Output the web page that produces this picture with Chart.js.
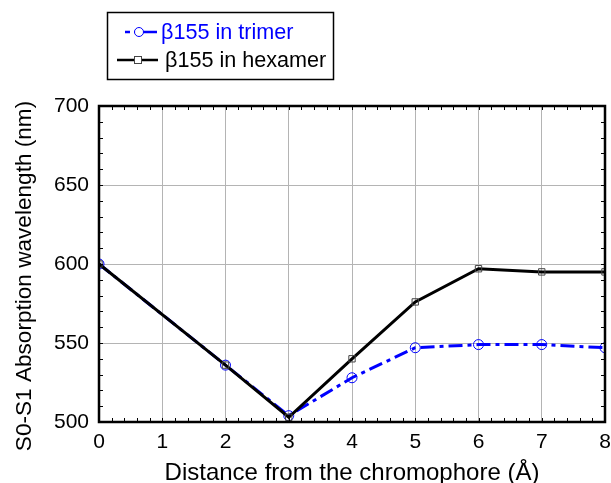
<!DOCTYPE html>
<html>
<head>
<meta charset="utf-8">
<script src="https://cdn.jsdelivr.net/npm/chart.js@4.4.0/dist/chart.umd.min.js"></script>
<style>
  html, body { margin: 0; padding: 0; background: #fff; }
  #wrap { width: 611px; height: 483px; }
</style>
</head>
<body>
<div id="wrap"><canvas id="absorption-chart" width="611" height="483"></canvas></div>
<script>
Chart.defaults.font.family = '"Liberation Sans", Arial, sans-serif'

// distances (Å) and S0-S1 absorption wavelengths (nm)
const distances = [0, 2, 3, 4, 5, 6, 7, 8];
const trimer = [600, 536, 504, 528, 547, 549, 549, 547];
const hexamer = [600, 536, 503, 540, 576, 597, 595, 595];

const seriesLabels = ["β155 in trimer", "β155 in hexamer"];
const xTitle = "Distance from the chromophore (Å)";
const yTitle = "S0-S1 Absorption wavelength (nm)";

const blueDash = [14, 5, 4, 5];

const toPoints = (vals) => distances.map((d, i) => ({ x: d, y: vals[i] }));

// frame, minor ticks, axis titles and the boxed legend
const decorPlugin = {
  id: 'decor',
  afterDatasetsDraw(chart) {
    const ctx = chart.ctx;
    const a = chart.chartArea;
    const xs = chart.scales.x;
    const ys = chart.scales.y;
    ctx.save();

    // minor ticks inside the frame
    ctx.strokeStyle = '#000';
    ctx.lineWidth = 1;
    ctx.beginPath();
    for (let v = 0; v <= 8.001; v += 0.2) {
      const px = Math.round(xs.getPixelForValue(v)) + 0.5;
      ctx.moveTo(px, a.bottom); ctx.lineTo(px, a.bottom - 4);
      ctx.moveTo(px, a.top); ctx.lineTo(px, a.top + 4);
    }
    for (let v = 500; v <= 700; v += 10) {
      const py = Math.round(ys.getPixelForValue(v)) + 0.5;
      ctx.moveTo(a.left, py); ctx.lineTo(a.left + 4, py);
      ctx.moveTo(a.right, py); ctx.lineTo(a.right - 4, py);
    }
    ctx.stroke();

    // frame
    ctx.lineWidth = 2.5;
    ctx.strokeRect(a.left, a.top, a.right - a.left, a.bottom - a.top);

    // axis titles
    ctx.fillStyle = '#000';
    ctx.textAlign = 'center';
    ctx.textBaseline = 'alphabetic';
    ctx.font = '24px "Liberation Sans", Arial, sans-serif';
    ctx.fillText(xTitle, (a.left + a.right) / 2, 480);
    ctx.save();
    ctx.font = '22.6px "Liberation Sans", Arial, sans-serif';
    ctx.translate(31, 276);
    ctx.rotate(-Math.PI / 2);
    ctx.fillText(yTitle, 0, 0);
    ctx.restore();

    // legend box
    ctx.lineWidth = 1.5;
    ctx.strokeStyle = '#000';
    ctx.strokeRect(107.5, 12.5, 226, 67);
    ctx.font = '21.6px "Liberation Sans", Arial, sans-serif';
    ctx.textAlign = 'left';
    ctx.textBaseline = 'middle';

    // trimer entry
    ctx.strokeStyle = '#0000ff';
    ctx.lineWidth = 2.5;
    ctx.setLineDash([5, 4, 18, 0]);
    ctx.beginPath();
    ctx.moveTo(125, 32); ctx.lineTo(158, 32);
    ctx.stroke();
    ctx.setLineDash([]);
    ctx.lineWidth = 1;
    ctx.beginPath();
    ctx.arc(139, 32, 4.5, 0, Math.PI * 2);
    ctx.fillStyle = '#fff';
    ctx.fill();
    ctx.stroke();
    ctx.fillStyle = '#0000ff';
    ctx.fillText(seriesLabels[0], 161, 33);

    // hexamer entry
    ctx.strokeStyle = '#000';
    ctx.lineWidth = 2.5;
    ctx.beginPath();
    ctx.moveTo(117, 60); ctx.lineTo(158, 60);
    ctx.stroke();
    ctx.lineWidth = 1;
    ctx.strokeStyle = '#444';
    ctx.fillStyle = '#fff';
    ctx.fillRect(134, 56, 8, 8);
    ctx.strokeRect(134.5, 56.5, 7, 7);
    ctx.fillStyle = '#000';
    ctx.fillText(seriesLabels[1], 165, 61);

    ctx.restore();
  }
};

const config = {
  type: 'line',
  data: {
    datasets: [
      {
        label: seriesLabels[1],
        data: toPoints(hexamer),
        borderColor: '#000',
        borderWidth: 3,
        pointStyle: 'rect',
        pointRadius: 4.5,
        pointBorderWidth: 1,
        pointBorderColor: '#444',
        pointBackgroundColor: 'rgba(0,0,0,0)',
        order: 0
      },
      {
        label: seriesLabels[0],
        data: toPoints(trimer),
        borderColor: '#0000ff',
        borderWidth: 3,
        borderDash: blueDash,
        pointStyle: 'circle',
        pointRadius: 5,
        pointBorderWidth: 1,
        pointBorderColor: '#0000ff',
        pointBackgroundColor: 'rgba(0,0,0,0)',
        order: 1
      }
    ]
  },
  options: {
    responsive: false,
    animation: false,
    layout: { padding: { top: 106, right: 6, left: 0, bottom: 0 } },
    plugins: {
      legend: { display: false },
      tooltip: { enabled: false }
    },
    scales: {
      x: {
        type: 'linear',
        min: 0,
        max: 8,
        ticks: { stepSize: 1, color: '#000', font: { size: 21 }, padding: 8, maxRotation: 0 },
        grid: { color: '#b4b4b4', lineWidth: 1, drawTicks: false },
        border: { display: false },
        afterFit: (s) => { s.height = 61; s.paddingLeft = 0; s.paddingRight = 0; }
      },
      y: {
        min: 500,
        max: 700,
        ticks: { stepSize: 50, color: '#000', font: { size: 21 }, padding: 10 },
        grid: { color: '#b4b4b4', lineWidth: 1, drawTicks: false },
        border: { display: false },
        afterFit: (s) => { s.width = 99; s.paddingTop = 0; s.paddingBottom = 0; }
      }
    }
  },
  plugins: [decorPlugin]
};

const ctx = document.getElementById('absorption-chart').getContext('2d');
new Chart(ctx, config);
</script>
</body>
</html>
